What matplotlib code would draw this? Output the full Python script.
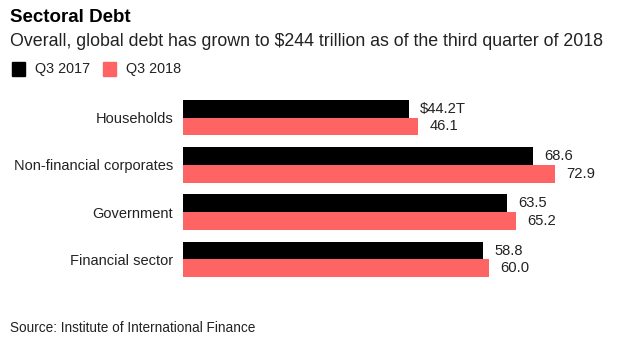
import numpy as np
import matplotlib.pyplot as plt
from matplotlib.patches import Rectangle

plt.rcParams['font.family'] = ['Liberation Sans', 'DejaVu Sans']

# Data
sectors = ["Households", "Non-financial corporates", "Government", "Financial sector"]
q3_2017 = [44.2, 68.6, 63.5, 58.8]
q3_2018 = [46.1, 72.9, 65.2, 60.0]
labels_2017 = ["$44.2T", "68.6", "63.5", "58.8"]
labels_2018 = ["46.1", "72.9", "65.2", "60.0"]

BLACK = "#000000"
RED = "#ff6464"
TXT = "#222222"

W, H = 636, 358
fig = plt.figure(figsize=(W / 100, H / 100), dpi=100)
fig.patch.set_facecolor("white")

# axes placed in pixel terms
ax_left, ax_right, ax_top, ax_bot = 183, 617, 94, 283
ax = fig.add_axes([ax_left / W, 1 - ax_bot / H, (ax_right - ax_left) / W, (ax_bot - ax_top) / H])

y = np.arange(len(sectors))
bh = 0.375
ax.barh(y - bh / 2, q3_2017, height=bh, color=BLACK)
ax.barh(y + bh / 2, q3_2018, height=bh, color=RED)

for i in range(len(sectors)):
    ax.text(q3_2017[i] + 2.2, y[i] - bh / 2, labels_2017[i], va="center", ha="left", fontsize=10.6, color=TXT)
    ax.text(q3_2018[i] + 2.2, y[i] + bh / 2, labels_2018[i], va="center", ha="left", fontsize=10.6, color=TXT)

ax.set_xlim(0, 85)
ax.set_ylim(len(sectors) - 0.5, -0.5)
ax.set_yticks(y)
ax.set_yticklabels(sectors, fontsize=10.5, color=TXT)
ax.tick_params(axis="y", length=0, pad=7)
ax.set_xticks([])
for s in ax.spines.values():
    s.set_visible(False)

# titles
fig.text(10 / W, 1 - 18 / H, "Sectoral Debt", fontsize=13.5, fontweight="bold", va="center", ha="left")
fig.text(10 / W, 1 - 42 / H, "Overall, global debt has grown to $244 trillion as of the third quarter of 2018",
         fontsize=12.8, va="center", ha="left", color=TXT)

# legend
for x0, col, txt in [(12, BLACK, "Q3 2017"), (103, RED, "Q3 2018")]:
    fig.patches.append(Rectangle((x0 / W, 1 - 76 / H), 13 / W, 14 / H, transform=fig.transFigure,
                                 color=col))
    fig.text((x0 + 23) / W, 1 - 69 / H, txt, fontsize=10.4, va="center", ha="left", color=TXT)

fig.text(10 / W, 1 - 328 / H, "Source: Institute of International Finance", fontsize=9.8,
         va="center", ha="left", color=TXT)

plt.savefig("out.png", dpi=100)
